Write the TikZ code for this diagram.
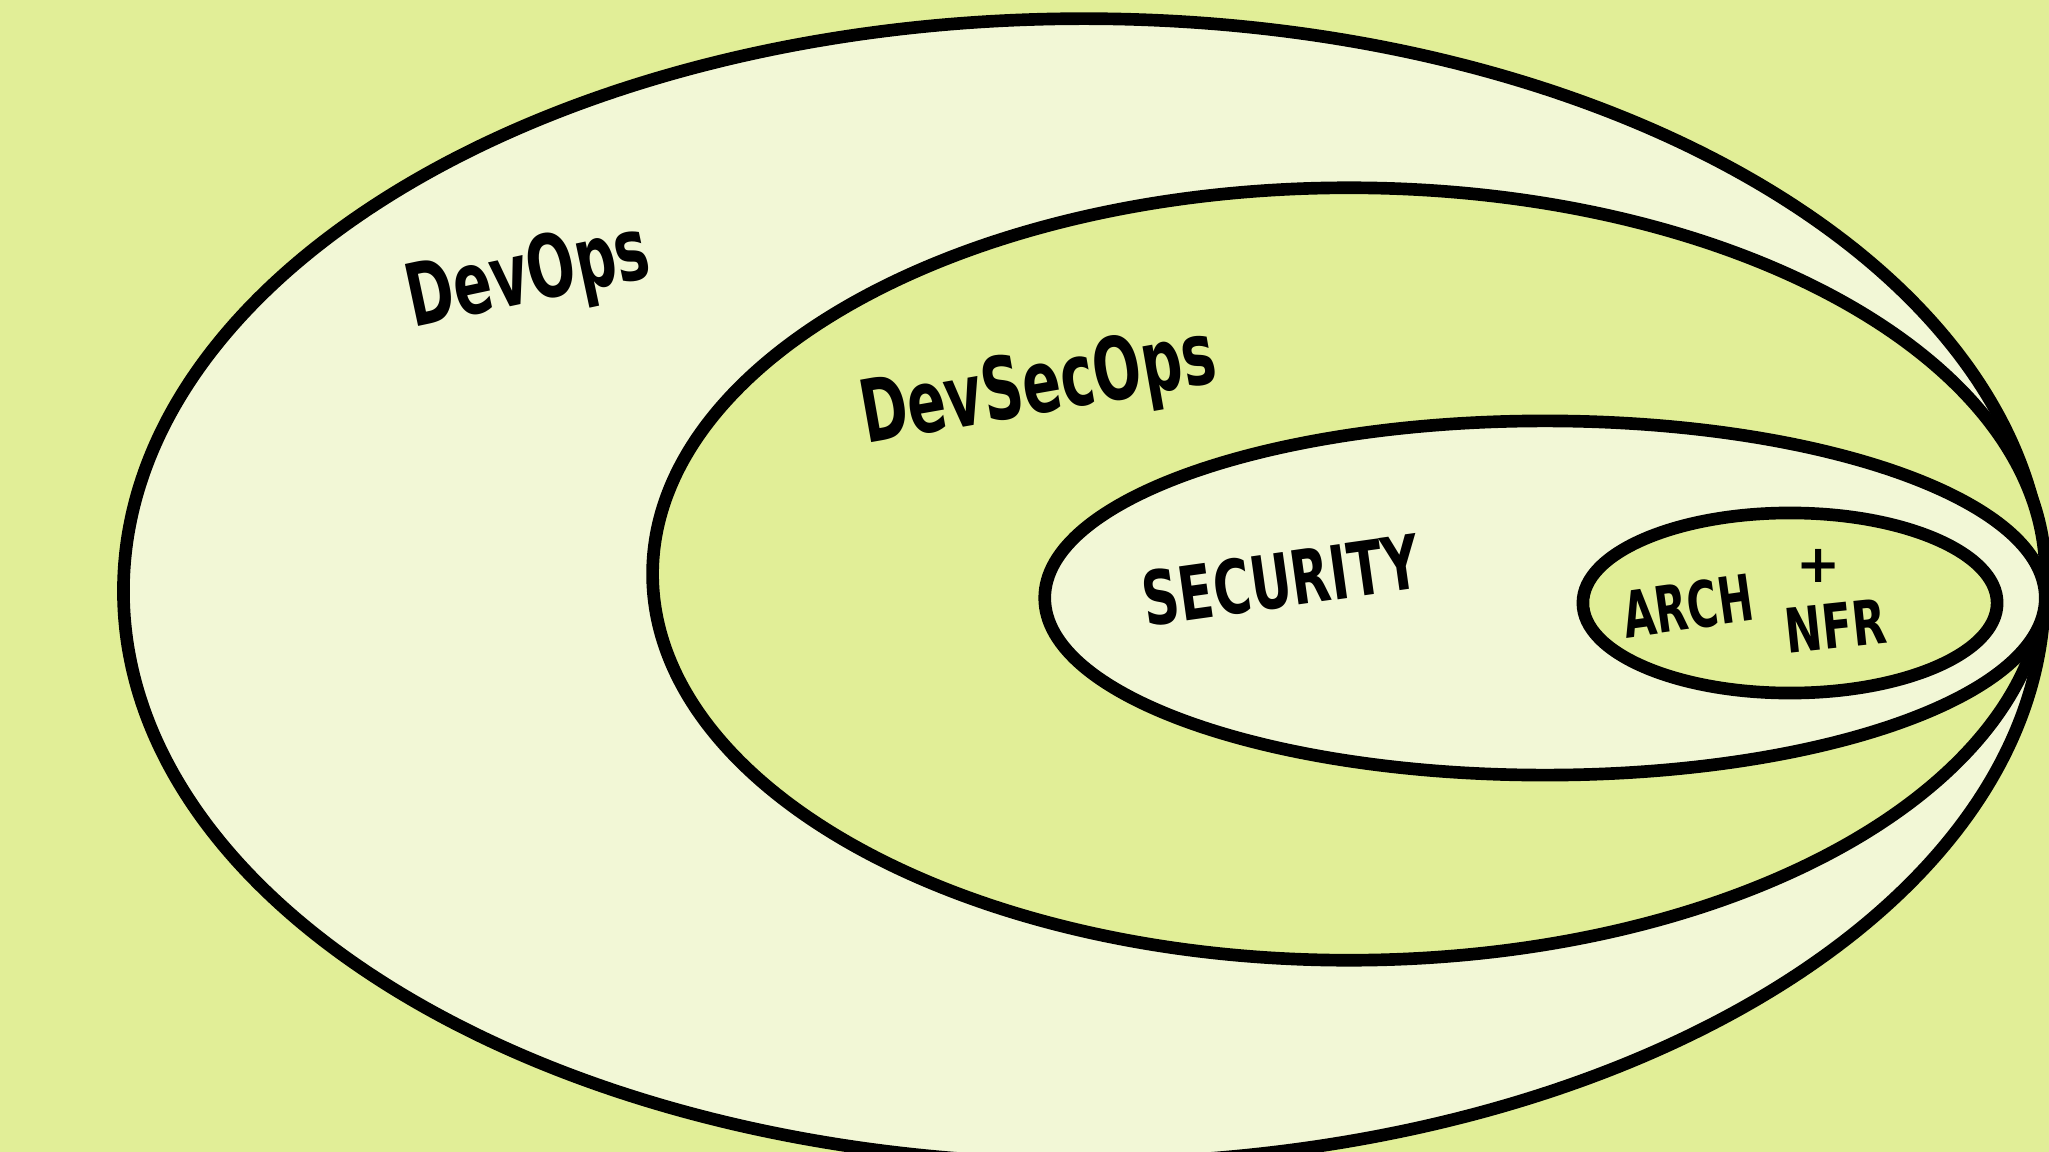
\documentclass[tikz,border=0pt]{standalone}
\usepackage{fontspec}
\setmainfont{DejaVu Sans}
\definecolor{limebg}{RGB}{225,238,151}
\definecolor{palefill}{RGB}{242,247,214}
\begin{document}
\begin{tikzpicture}[x=0.01cm,y=-0.01cm, line join=round, line cap=round,
	ring/.style={draw=black,line width=3.6pt},
	hand/.style={font=\fontsize{#1}{#1}\selectfont\bfseries, inner sep=0pt}]
	\useasboundingbox (0,0) rectangle (2049,1152);
	\fill[limebg] (0,0) rectangle (2049,1152);
	\begin{scope}
		\clip (0,0) rectangle (2049,1152);
		%rings, all touching on the right
		\filldraw[ring,fill=palefill] (1084,591) ellipse [x radius=9.60cm, y radius=5.72cm];
		\filldraw[ring,fill=limebg] (1349,574) ellipse [x radius=6.96cm, y radius=3.86cm];
		\filldraw[ring,fill=palefill] (1545,598) ellipse [x radius=5.00cm, y radius=1.77cm];
		\filldraw[ring,fill=limebg] (1790,603) ellipse [x radius=2.07cm, y radius=0.90cm];
	\end{scope}
	\node[hand=19,rotate=12,xscale=0.85,yscale=1.3] (devops) at (529,279) {DevOps};
	\node[hand=19,rotate=10,xscale=0.85,yscale=1.3] (devsecops) at (1039,390) {DevSecOps};
	\node[hand=17,rotate=8,xscale=0.85,yscale=1.25] (security) at (1281,580) {SECURITY};
	\node[hand=14,rotate=8,xscale=0.85,yscale=1.3] (arch) at (1688,606) {ARCH};
	\node[hand=15] (plus) at (1819,566) {+};
	\node[hand=14,rotate=6,xscale=0.9,yscale=1.25] (nfr) at (1836,626) {NFR};
\end{tikzpicture}
\end{document}
